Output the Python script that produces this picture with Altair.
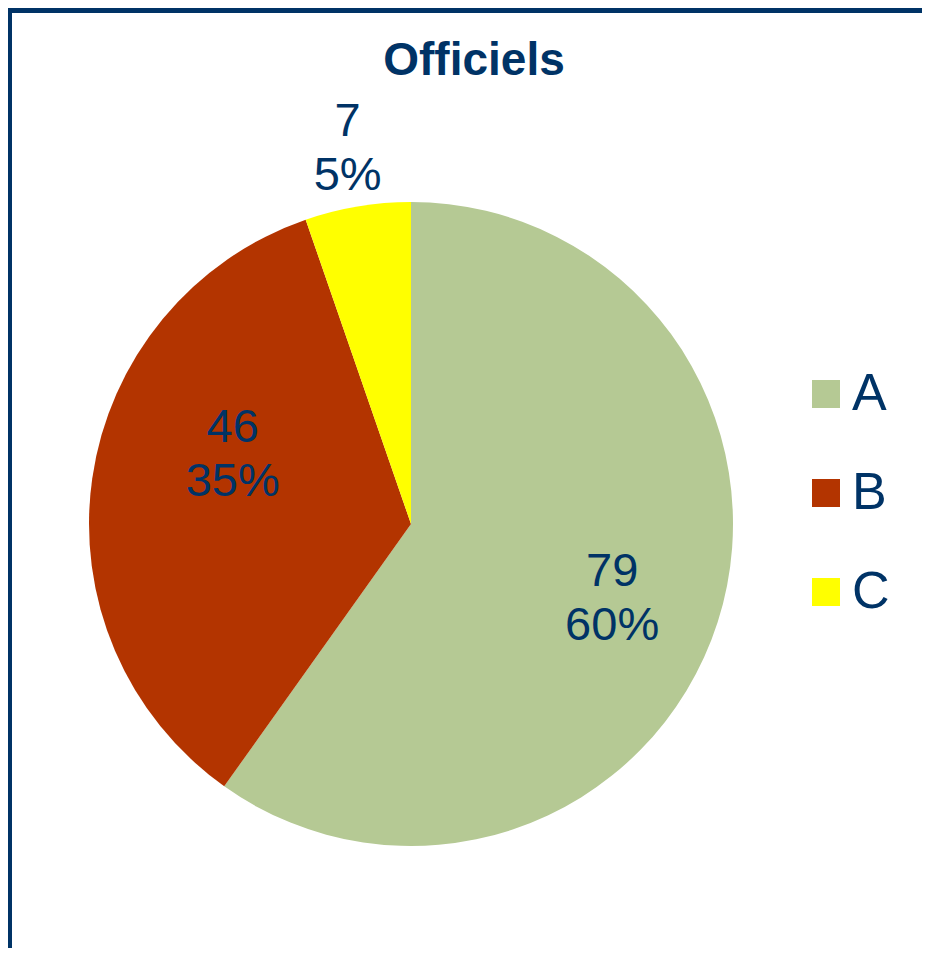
import altair as alt
import pandas as pd

# ---- data ----
categories = ["A", "B", "C"]
values = [79, 46, 7]
slice_order = [0, 1, 2]
colors = ["#B5C994", "#B33400", "#FFFF00"]
title_text = "Officiels"

NAVY = "#003366"
FONT = "Liberation Sans"

df = pd.DataFrame({"cat": categories, "value": values, "order": slice_order})
frame_df = pd.DataFrame({"k": [0]})

CX, CY, R = 403, 516, 322

pie = alt.Chart(df).mark_arc(radius=R).encode(
    theta=alt.Theta("value:Q", stack=True),
    order=alt.Order("order:Q"),
    color=alt.Color(
        "cat:N",
        scale=alt.Scale(domain=categories, range=colors),
        legend=alt.Legend(
            title=None,
            orient="none",
            legendX=792,
            legendY=360,
            symbolType="square",
            symbolSize=784,
            symbolStrokeWidth=0,
            symbolOpacity=1,
            labelFontSize=52,
            labelFont=FONT,
            labelColor=NAVY,
            labelOffset=0,
            rowPadding=47,
            padding=0,
        ),
    ),
    x=alt.value(CX),
    y=alt.value(CY),
)


def label_layer(cat, radius, theta_off):
    return (
        alt.Chart(df)
        .transform_joinaggregate(total="sum(value)")
        .transform_window(cum="sum(value)", sort=[alt.SortField("order")])
        .transform_calculate(
            mid="datum.cum - datum.value / 2",
            label="datum.value + '\\n' + round(datum.value * 100 / datum.total) + '%'",
        )
        .transform_filter(alt.datum.cat == cat)
        .mark_text(
            radius=radius,
            thetaOffset=theta_off,
            fontSize=47,
            font=FONT,
            color=NAVY,
            lineBreak="\n",
            lineHeight=54,
            align="center",
            baseline="middle",
            dy=-25,
        )
        .encode(
            theta=alt.Theta("mid:Q", stack=False),
            text=alt.Text("label:N"),
            x=alt.value(CX),
            y=alt.value(CY),
        )
    )


labels = (
    label_layer("A", 214, 0.039)
    + label_layer("B", 192, 0.237)
    + label_layer("C", 382, 0.0)
)

frame = alt.Chart(frame_df).mark_rect(
    fillOpacity=0, stroke=NAVY, strokeWidth=6
).encode(
    x=alt.value(1), x2=alt.value(1200), y=alt.value(2), y2=alt.value(1200)
)

chart = (
    alt.layer(frame, pie, labels)
    .properties(
        width=914,
        height=940,
        padding=0,
        autosize=alt.AutoSizeParams(type="none"),
        title=alt.Title(
            title_text,
            fontSize=46,
            font=FONT,
            fontWeight="bold",
            color=NAVY,
            anchor="middle",
            frame="group",
            offset=-78,
            dx=9,
        ),
    )
    .configure_view(stroke=None)
    .configure(background="white")
)

chart.save("out.html", embed_options={"renderer": "svg", "actions": False})
